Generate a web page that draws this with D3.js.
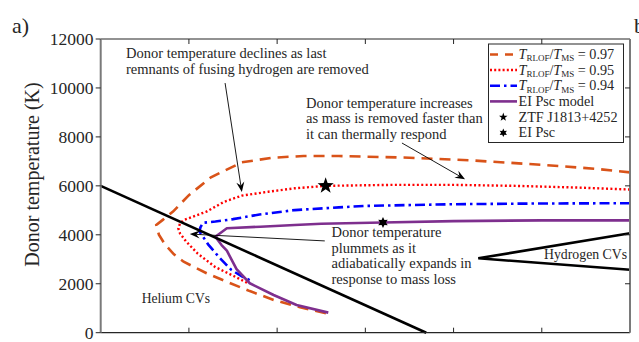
<!DOCTYPE html>
<html><head><meta charset="utf-8">
<script src="https://cdn.jsdelivr.net/npm/d3@7"></script>
<style>
body{margin:0;background:#fff}
svg{display:block}
text{font-family:"Liberation Serif","Times New Roman",serif;fill:#262626}
</style>
</head><body><svg id="c" width="639" height="342"></svg>
<script>
// ---------- data ----------
const xTicks = [0, 1, 2, 3, 4, 5, 6];
const yTicks = [0, 2000, 4000, 6000, 8000, 10000, 12000];
const yTickLabels = ["0", "2000", "4000", "6000", "8000", "10000", "12000"];

const seriesLabels = ["0.97", "0.95", "0.94", "EI Psc model"];

const t097X = [6.0, 5.6, 5.0, 4.2, 3.5, 2.7, 2.3, 1.95, 1.6, 1.25, 1.0, 0.82, 0.7, 0.63, 0.66, 0.73, 0.83, 0.94, 1.2, 1.43, 1.69, 1.96, 2.26, 2.56];
const t097Y = [6550, 6700, 6860, 7040, 7150, 7220, 7220, 7150, 6960, 6350, 5620, 4950, 4600, 4400, 4000, 3600, 3200, 2900, 2430, 2080, 1700, 1340, 1040, 790];

const t095X = [6.0, 5.4, 4.7, 4.0, 3.3, 2.55, 2.2, 1.9, 1.6, 1.4, 1.2, 1.0, 0.94, 0.9, 0.88, 0.9, 0.97, 1.1, 1.3, 1.5, 1.67];
const t095Y = [5850, 5930, 6000, 6040, 6040, 6000, 5900, 5760, 5600, 5350, 4950, 4680, 4600, 4470, 4260, 4050, 3720, 3230, 2680, 2330, 2020];

const t094X = [6.0, 5.0, 4.0, 3.0, 2.7, 2.2, 1.8, 1.5, 1.3, 1.16, 1.13, 1.12, 1.22, 1.35, 1.48, 1.6, 1.73];
const t094Y = [5290, 5280, 5250, 5180, 5120, 5010, 4830, 4640, 4540, 4490, 4300, 4130, 3600, 3050, 2570, 2300, 2080];

const elPscX = [6.0, 5.0, 4.0, 3.2, 2.5, 2.2, 1.81, 1.43, 1.30, 1.37, 1.43, 1.54, 1.69, 1.96, 2.22, 2.58];
const elPscY = [4590, 4590, 4560, 4500, 4450, 4400, 4330, 4270, 3920, 3580, 3350, 2600, 2020, 1540, 1130, 820];

const heliumLineX = [0, 3.69];
const heliumLineY = [6000, 0];
const hydrogenLineX = [6.0, 4.28, 6.0];
const hydrogenLineY = [4060, 3040, 2570];

const ztfStar = [2.55, 6000];
const elPscStar = [3.2, 4500];

// annotation arrows: [x0, y0, x1 (tip), y1 (tip)] in data units
const arrowDeclines = [1.41, 10200, 1.60, 5750];
const arrowIncreases = [3.415, 7750, 4.13, 6270];
const arrowPlummets = [2.54, 3750, 1.01, 4030];

// ---------- layout ----------
const L = 100.7, R = 630, T = 39, B = 332.7;
const svg = d3.select("#c");
const x = d3.scaleLinear().domain([0, 6]).range([L, R]);
const y = d3.scaleLinear().domain([0, 12000]).range([B, T]);

const colors = {o: "#D95319", r: "#FF0000", b: "#0000FF", p: "#7E2F8E"};

const line = d3.line().x(d => x(d[0])).y(d => y(d[1]));
function zip(a, b) { return a.map((v, i) => [v, b[i]]); }

const plot = svg.append("g");
plot.append("path").attr("d", line(zip(t097X, t097Y))).attr("fill", "none")
  .attr("stroke", colors.o).attr("stroke-width", 2.6).attr("stroke-dasharray", "11,7");
plot.append("path").attr("d", line(zip(t095X, t095Y))).attr("fill", "none")
  .attr("stroke", colors.r).attr("stroke-width", 2.4).attr("stroke-dasharray", "2,2.4");
plot.append("path").attr("d", line(zip(t094X, t094Y))).attr("fill", "none")
  .attr("stroke", colors.b).attr("stroke-width", 2.6).attr("stroke-dasharray", "10,4,2.5,4");
plot.append("path").attr("d", line(zip(elPscX, elPscY))).attr("fill", "none")
  .attr("stroke", colors.p).attr("stroke-width", 2.6).attr("stroke-linejoin", "round");

plot.append("path").attr("d", line(zip(heliumLineX, heliumLineY))).attr("fill", "none")
  .attr("stroke", "#000").attr("stroke-width", 2.6);
plot.append("path").attr("d", line(zip(hydrogenLineX, hydrogenLineY))).attr("fill", "none")
  .attr("stroke", "#000").attr("stroke-width", 2.6);

function starPath(cx, cy, rOut, rIn, n) {
  const pts = d3.range(2 * n).map(i => {
    const a = -Math.PI / 2 + i * Math.PI / n;
    const r = i % 2 ? rIn : rOut;
    return [cx + r * Math.cos(a), cy + r * Math.sin(a)];
  });
  return d3.line()(pts) + "Z";
}
plot.append("path").attr("d", starPath(x(ztfStar[0]), y(ztfStar[1]), 8.5, 3.4, 5)).attr("fill", "#000");
plot.append("path").attr("d", starPath(x(elPscStar[0]), y(elPscStar[1]), 5.5, 2.9, 6)).attr("fill", "#000");

function arrow(a) {
  const x0 = x(a[0]), y0 = y(a[1]), x1 = x(a[2]), y1 = y(a[3]);
  const ang = Math.atan2(y1 - y0, x1 - x0);
  const len = 10, hw = 4, notch = 6.5;
  const ux = Math.cos(ang), uy = Math.sin(ang), px = -uy, py = ux;
  plot.append("line").attr("x1", x0).attr("y1", y0)
    .attr("x2", x1 - ux * notch).attr("y2", y1 - uy * notch)
    .attr("stroke", "#000").attr("stroke-width", 0.9);
  const pts = [[x1, y1], [x1 - ux * len + px * hw, y1 - uy * len + py * hw],
    [x1 - ux * notch, y1 - uy * notch], [x1 - ux * len - px * hw, y1 - uy * len - py * hw]];
  plot.append("path").attr("d", d3.line()(pts) + "Z").attr("fill", "#000");
}
arrow(arrowDeclines);
arrow(arrowIncreases);
arrow(arrowPlummets);

function multiText(xp, ys, lines, size) {
  const t = svg.append("text").attr("font-size", size);
  lines.forEach((s, i) => t.append("tspan").attr("x", xp).attr("y", ys[i]).text(s));
}
multiText(126, [57.5, 73.5], ["Donor temperature declines as last", "remnants of fusing hydrogen are removed"], 14.5);
multiText(306, [107.5, 123, 138.5], ["Donor temperature increases", "as mass is removed faster than", "it can thermally respond"], 14.5);
multiText(331.5, [237, 252.7, 268.3, 284], ["Donor temperature", "plummets as it", "adiabatically expands in", "response to mass loss"], 14.5);
svg.append("text").attr("x", 141.7).attr("y", 302.5).attr("font-size", 13.6).text("Helium CVs");
svg.append("text").attr("x", 544).attr("y", 258.5).attr("font-size", 13.8).text("Hydrogen CVs");

const ax = svg.append("g");
ax.append("line").attr("x1", L).attr("x2", R).attr("y1", T).attr("y2", T).attr("stroke", "#262626").attr("stroke-width", 1.2);
ax.append("line").attr("x1", L).attr("x2", R).attr("y1", B).attr("y2", B).attr("stroke", "#262626").attr("stroke-width", 1.2);
ax.append("line").attr("x1", L).attr("x2", L).attr("y1", T).attr("y2", B).attr("stroke", "#7a7a7a").attr("stroke-width", 2);
ax.append("line").attr("x1", R).attr("x2", R).attr("y1", T).attr("y2", B).attr("stroke", "#7a7a7a").attr("stroke-width", 2);

xTicks.slice(1, -1).forEach(v => {
  ax.append("line").attr("x1", x(v)).attr("x2", x(v)).attr("y1", T).attr("y2", T + 5).attr("stroke", "#262626");
  ax.append("line").attr("x1", x(v)).attr("x2", x(v)).attr("y1", B).attr("y2", B - 5).attr("stroke", "#262626");
});
yTicks.forEach((v, i) => {
  ax.append("line").attr("x1", L - 5).attr("x2", L).attr("y1", y(v)).attr("y2", y(v)).attr("stroke", "#262626");
  if (i > 0 && i < yTicks.length - 1)
    ax.append("line").attr("x1", R - 5).attr("x2", R).attr("y1", y(v)).attr("y2", y(v)).attr("stroke", "#262626");
  ax.append("text").attr("x", 93.5).attr("y", y(v)).attr("dy", "0.35em").attr("text-anchor", "end")
    .attr("font-size", 17.5).text(yTickLabels[i]);
});

svg.append("text").attr("transform", "translate(39,174.5) rotate(-90)").attr("text-anchor", "middle")
  .attr("font-size", 20).text("Donor temperature (K)");

svg.append("text").attr("x", 12).attr("y", 33).attr("font-size", 22).text("a)");
svg.append("text").attr("x", 634).attr("y", 33).attr("font-size", 22).text("b");

const lg = svg.append("g");
lg.append("rect").attr("x", 488.5).attr("y", 44).attr("width", 135).attr("height", 98.5)
  .attr("fill", "#fff").attr("stroke", "#262626").attr("stroke-width", 1);
const rowY = [54.5, 70, 85.7, 101.4, 117.1, 132.8];
const styles = [
  {c: colors.o, d: "8,7", w: 2.6},
  {c: colors.r, d: "2,2.2", w: 2.4},
  {c: colors.b, d: "10,4,2.5,4", w: 2.6},
  {c: colors.p, d: null, w: 2.6}
];
styles.forEach((s, i) => {
  const l = lg.append("line").attr("x1", 490).attr("x2", 517).attr("y1", rowY[i]).attr("y2", rowY[i])
    .attr("stroke", s.c).attr("stroke-width", s.w);
  if (s.d) l.attr("stroke-dasharray", s.d);
  const t = lg.append("text").attr("x", 518.5).attr("y", rowY[i]).attr("dy", "0.33em").attr("font-size", 14.2);
  if (i < 3) {
    t.append("tspan").attr("font-style", "italic").text("T");
    t.append("tspan").attr("font-size", 9).attr("dy", 2.2).text("RLOF");
    t.append("tspan").attr("dy", -2.2).text("/");
    t.append("tspan").attr("font-style", "italic").text("T");
    t.append("tspan").attr("font-size", 9).attr("dy", 2.2).text("MS");
    t.append("tspan").attr("dy", -2.2).text(" = " + seriesLabels[i]);
  } else {
    t.text(seriesLabels[i]);
  }
});
lg.append("path").attr("d", starPath(503.3, rowY[4], 4.5, 1.8, 5)).attr("fill", "#000");
lg.append("path").attr("d", starPath(503.3, rowY[5], 4.2, 2.2, 6)).attr("fill", "#000");
lg.append("text").attr("x", 518.5).attr("y", rowY[4]).attr("dy", "0.33em").attr("font-size", 14.2).text("ZTF J1813+4252");
lg.append("text").attr("x", 518.5).attr("y", rowY[5]).attr("dy", "0.33em").attr("font-size", 14.2).text("EI Psc");
</script>
</body></html>
